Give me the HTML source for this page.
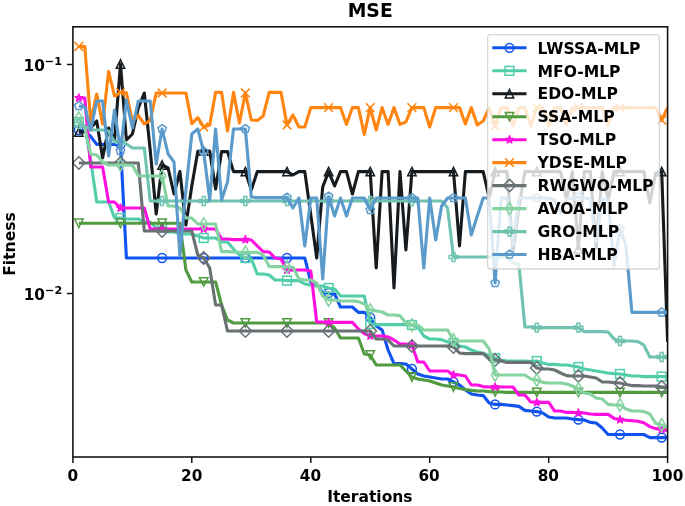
<!DOCTYPE html>
<html lang="en"><head><meta charset="utf-8"><title>MSE</title>
<style>html,body{margin:0;padding:0;background:#fff;overflow:hidden}svg{display:block}text{font-family:"DejaVu Sans", "Liberation Sans", sans-serif;font-weight:bold;fill:#000}</style></head><body>
<svg width="685" height="506" viewBox="0 0 685 506">
<rect width="685" height="506" fill="#fff"/>
<defs><clipPath id="ax"><rect x="72.9" y="26.8" width="594.7" height="430.2"/></clipPath></defs>
<g clip-path="url(#ax)">
<g><polyline points="78.8,130 84.8,131 90.7,136.5 96.7,144.4 102.6,144.4 108.6,144.4 114.5,144.4 120.5,144.4 126.4,258 132.4,258 138.3,258 144.3,258 150.2,258 156.2,258 162.1,258 168.1,258 174,258 179.9,258 185.9,258 191.8,258 197.8,258 203.7,258 209.7,258 215.6,258 221.6,258 227.5,258 233.5,258 239.4,258 245.4,258 251.3,258 257.3,258 263.2,258 269.2,258 275.1,258 281,258 287,258 292.9,258 298.9,258 304.8,258 310.8,282 316.7,284 322.7,293 328.6,293 334.6,294 340.5,307 346.5,307 352.4,307 358.4,312.4 364.3,312.4 370.2,317.4 376.2,326 382.1,330 388.1,350 394,363.6 400,363.6 405.9,364 411.9,369 417.8,374 423.8,376 429.7,377 435.7,378 441.6,379 447.6,379 453.5,382 459.5,385 465.4,390 471.3,394 477.3,395 483.2,395.6 489.2,403 495.1,404.4 501.1,404.4 507,405 513,405.6 518.9,406.4 524.9,410.4 530.8,411 536.8,411.6 542.7,413 548.7,417 554.6,418 560.6,418 566.5,418 572.4,419 578.4,419.6 584.3,420 590.3,422.4 596.2,423 602.2,428 608.1,434.5 614.1,434.5 620,434.5 626,434.5 631.9,434.5 637.9,434.5 643.8,434.5 649.8,437.6 655.7,437.6 661.7,437.6 667.6,437.6" fill="none" stroke="#1053f0" stroke-width="3.1" stroke-linejoin="round" stroke-linecap="butt"/>
<circle cx="78.8" cy="130" r="4.4" fill="none" stroke="#1053f0" stroke-width="1.5" stroke-linejoin="miter"/>
<circle cx="120.5" cy="144.4" r="4.4" fill="none" stroke="#1053f0" stroke-width="1.5" stroke-linejoin="miter"/>
<circle cx="162.1" cy="258" r="4.4" fill="none" stroke="#1053f0" stroke-width="1.5" stroke-linejoin="miter"/>
<circle cx="203.7" cy="258" r="4.4" fill="none" stroke="#1053f0" stroke-width="1.5" stroke-linejoin="miter"/>
<circle cx="245.4" cy="258" r="4.4" fill="none" stroke="#1053f0" stroke-width="1.5" stroke-linejoin="miter"/>
<circle cx="287" cy="258" r="4.4" fill="none" stroke="#1053f0" stroke-width="1.5" stroke-linejoin="miter"/>
<circle cx="328.6" cy="293" r="4.4" fill="none" stroke="#1053f0" stroke-width="1.5" stroke-linejoin="miter"/>
<circle cx="370.2" cy="317.4" r="4.4" fill="none" stroke="#1053f0" stroke-width="1.5" stroke-linejoin="miter"/>
<circle cx="411.9" cy="369" r="4.4" fill="none" stroke="#1053f0" stroke-width="1.5" stroke-linejoin="miter"/>
<circle cx="453.5" cy="382" r="4.4" fill="none" stroke="#1053f0" stroke-width="1.5" stroke-linejoin="miter"/>
<circle cx="495.1" cy="404.4" r="4.4" fill="none" stroke="#1053f0" stroke-width="1.5" stroke-linejoin="miter"/>
<circle cx="536.8" cy="411.6" r="4.4" fill="none" stroke="#1053f0" stroke-width="1.5" stroke-linejoin="miter"/>
<circle cx="578.4" cy="419.6" r="4.4" fill="none" stroke="#1053f0" stroke-width="1.5" stroke-linejoin="miter"/>
<circle cx="620" cy="434.5" r="4.4" fill="none" stroke="#1053f0" stroke-width="1.5" stroke-linejoin="miter"/>
<circle cx="661.7" cy="437.6" r="4.4" fill="none" stroke="#1053f0" stroke-width="1.5" stroke-linejoin="miter"/>
</g>
<g><polyline points="78.8,122 84.8,126 90.7,160 96.7,202 102.6,202 108.6,202 114.5,218 120.5,218 126.4,219 132.4,219 138.3,219 144.3,222 150.2,222 156.2,228 162.1,228 168.1,232 174,232 179.9,234 185.9,234 191.8,234 197.8,236 203.7,238 209.7,238 215.6,238 221.6,242 227.5,242 233.5,249 239.4,255 245.4,258 251.3,259 257.3,274 263.2,274 269.2,275 275.1,280 281,280 287,280.6 292.9,280.6 298.9,280.6 304.8,284 310.8,285 316.7,286 322.7,286 328.6,288 334.6,289 340.5,296 346.5,296 352.4,296 358.4,296 364.3,296 370.2,324 376.2,324.6 382.1,324.6 388.1,324.6 394,324.6 400,324.6 405.9,324.6 411.9,325 417.8,327 423.8,336 429.7,339 435.7,339 441.6,339.6 447.6,342 453.5,343 459.5,346 465.4,347 471.3,350 477.3,352 483.2,353 489.2,356 495.1,358 501.1,360 507,361 513,361 518.9,361 524.9,361 530.8,361.6 536.8,361 542.7,363 548.7,364.4 554.6,364.4 560.6,365 566.5,365 572.4,366 578.4,367 584.3,369 590.3,370 596.2,371 602.2,372 608.1,373 614.1,373.6 620,374 626,375 631.9,376 637.9,376 643.8,376.6 649.8,376.6 655.7,376.6 661.7,376.6 667.6,376.6" fill="none" stroke="#52cdaa" stroke-width="3.1" stroke-linejoin="round" stroke-linecap="butt"/>
<rect x="74.4" y="117.6" width="8.8" height="8.8" fill="none" stroke="#52cdaa" stroke-width="1.5" stroke-linejoin="miter"/>
<rect x="116.1" y="213.6" width="8.8" height="8.8" fill="none" stroke="#52cdaa" stroke-width="1.5" stroke-linejoin="miter"/>
<rect x="157.7" y="223.6" width="8.8" height="8.8" fill="none" stroke="#52cdaa" stroke-width="1.5" stroke-linejoin="miter"/>
<rect x="199.3" y="233.6" width="8.8" height="8.8" fill="none" stroke="#52cdaa" stroke-width="1.5" stroke-linejoin="miter"/>
<rect x="241" y="253.6" width="8.8" height="8.8" fill="none" stroke="#52cdaa" stroke-width="1.5" stroke-linejoin="miter"/>
<rect x="282.6" y="276.2" width="8.8" height="8.8" fill="none" stroke="#52cdaa" stroke-width="1.5" stroke-linejoin="miter"/>
<rect x="324.2" y="283.6" width="8.8" height="8.8" fill="none" stroke="#52cdaa" stroke-width="1.5" stroke-linejoin="miter"/>
<rect x="365.9" y="319.6" width="8.8" height="8.8" fill="none" stroke="#52cdaa" stroke-width="1.5" stroke-linejoin="miter"/>
<rect x="407.5" y="320.6" width="8.8" height="8.8" fill="none" stroke="#52cdaa" stroke-width="1.5" stroke-linejoin="miter"/>
<rect x="449.1" y="338.6" width="8.8" height="8.8" fill="none" stroke="#52cdaa" stroke-width="1.5" stroke-linejoin="miter"/>
<rect x="490.7" y="353.6" width="8.8" height="8.8" fill="none" stroke="#52cdaa" stroke-width="1.5" stroke-linejoin="miter"/>
<rect x="532.4" y="356.6" width="8.8" height="8.8" fill="none" stroke="#52cdaa" stroke-width="1.5" stroke-linejoin="miter"/>
<rect x="574" y="362.6" width="8.8" height="8.8" fill="none" stroke="#52cdaa" stroke-width="1.5" stroke-linejoin="miter"/>
<rect x="615.6" y="369.6" width="8.8" height="8.8" fill="none" stroke="#52cdaa" stroke-width="1.5" stroke-linejoin="miter"/>
<rect x="657.3" y="372.2" width="8.8" height="8.8" fill="none" stroke="#52cdaa" stroke-width="1.5" stroke-linejoin="miter"/>
</g>
<g><polyline points="78.8,132 84.8,132 90.7,128 96.7,121 102.6,158 108.6,128 114.5,140 120.5,64 126.4,140 132.4,134 138.3,108 144.3,93 150.2,150 156.2,214 162.1,165 168.1,168 174,194 179.9,171.5 185.9,225 191.8,186 197.8,151.4 203.7,151 209.7,151 215.6,189 221.6,151.6 227.5,151.6 233.5,171.6 239.4,171.6 245.4,171.6 251.3,190 257.3,171.6 263.2,171.6 269.2,171.6 275.1,171.6 281,171.6 287,171.6 292.9,175 298.9,171.6 304.8,171.6 310.8,215 316.7,258 322.7,187 328.6,171.6 334.6,186 340.5,171.6 346.5,171.6 352.4,194 358.4,171.6 364.3,171.6 370.2,171.6 376.2,268 382.1,171.6 388.1,171.6 394,288 400,171.6 405.9,250 411.9,171.6 417.8,171.6 423.8,171.6 429.7,171.6 435.7,171.6 441.6,171.6 447.6,171.6 453.5,171.6 459.5,246 465.4,171.6 471.3,171.6 477.3,171.6 483.2,171.6 489.2,198 495.1,171.6 501.1,171.6 507,171.6 513,252 518.9,207 524.9,171.6 530.8,171.6 536.8,171.6 542.7,171.6 548.7,171.6 554.6,171.6 560.6,171.6 566.5,200 572.4,171.6 578.4,249 584.3,171.6 590.3,171.6 596.2,248 602.2,171.6 608.1,200 614.1,171.6 620,171.6 626,171.6 631.9,171.6 637.9,171.6 643.8,171.6 649.8,203 655.7,173 661.7,171.6 667.6,342" fill="none" stroke="#161b1f" stroke-width="3.1" stroke-linejoin="round" stroke-linecap="butt"/>
<polygon points="78.8,127.8 83.1,136.2 74.6,136.2" fill="none" stroke="#161b1f" stroke-width="1.5" stroke-linejoin="miter"/>
<polygon points="120.5,59.8 124.7,68.2 116.3,68.2" fill="none" stroke="#161b1f" stroke-width="1.5" stroke-linejoin="miter"/>
<polygon points="162.1,160.8 166.3,169.2 157.9,169.2" fill="none" stroke="#161b1f" stroke-width="1.5" stroke-linejoin="miter"/>
<polygon points="203.7,146.8 208,155.2 199.5,155.2" fill="none" stroke="#161b1f" stroke-width="1.5" stroke-linejoin="miter"/>
<polygon points="245.4,167.4 249.6,175.8 241.1,175.8" fill="none" stroke="#161b1f" stroke-width="1.5" stroke-linejoin="miter"/>
<polygon points="287,167.4 291.2,175.8 282.8,175.8" fill="none" stroke="#161b1f" stroke-width="1.5" stroke-linejoin="miter"/>
<polygon points="328.6,167.4 332.8,175.8 324.4,175.8" fill="none" stroke="#161b1f" stroke-width="1.5" stroke-linejoin="miter"/>
<polygon points="370.2,167.4 374.5,175.8 366,175.8" fill="none" stroke="#161b1f" stroke-width="1.5" stroke-linejoin="miter"/>
<polygon points="411.9,167.4 416.1,175.8 407.7,175.8" fill="none" stroke="#161b1f" stroke-width="1.5" stroke-linejoin="miter"/>
<polygon points="453.5,167.4 457.7,175.8 449.3,175.8" fill="none" stroke="#161b1f" stroke-width="1.5" stroke-linejoin="miter"/>
<polygon points="495.1,167.4 499.4,175.8 490.9,175.8" fill="none" stroke="#161b1f" stroke-width="1.5" stroke-linejoin="miter"/>
<polygon points="536.8,167.4 541,175.8 532.5,175.8" fill="none" stroke="#161b1f" stroke-width="1.5" stroke-linejoin="miter"/>
<polygon points="578.4,244.8 582.6,253.2 574.2,253.2" fill="none" stroke="#161b1f" stroke-width="1.5" stroke-linejoin="miter"/>
<polygon points="620,167.4 624.2,175.8 615.8,175.8" fill="none" stroke="#161b1f" stroke-width="1.5" stroke-linejoin="miter"/>
<polygon points="661.7,167.4 665.9,175.8 657.4,175.8" fill="none" stroke="#161b1f" stroke-width="1.5" stroke-linejoin="miter"/>
</g>
<g><polyline points="78.8,223.3 84.8,223.3 90.7,223.3 96.7,223.3 102.6,223.3 108.6,223.3 114.5,223.3 120.5,223.3 126.4,223.3 132.4,223.3 138.3,223.3 144.3,223.3 150.2,223.3 156.2,223.3 162.1,223.3 168.1,223.3 174,223.3 179.9,223.3 185.9,270 191.8,282 197.8,282 203.7,282 209.7,282 215.6,282 221.6,305 227.5,320 233.5,323 239.4,323 245.4,323 251.3,323 257.3,323 263.2,323 269.2,323 275.1,323 281,323 287,323 292.9,323 298.9,323 304.8,323 310.8,323 316.7,323 322.7,323 328.6,323 334.6,328 340.5,338 346.5,338 352.4,338 358.4,338 364.3,354 370.2,355 376.2,365 382.1,365 388.1,365 394,365 400,365 405.9,371 411.9,377 417.8,379 423.8,380 429.7,381 435.7,383 441.6,385 447.6,386 453.5,387 459.5,388.4 465.4,389.6 471.3,390.4 477.3,391 483.2,391 489.2,391.6 495.1,392 501.1,392 507,392.4 513,392.4 518.9,392.4 524.9,392.4 530.8,392.4 536.8,392.4 542.7,392.4 548.7,392.4 554.6,392.4 560.6,392.4 566.5,392.4 572.4,392.4 578.4,392.4 584.3,392.4 590.3,392.4 596.2,392.4 602.2,392.4 608.1,392.4 614.1,392.4 620,392.4 626,392.4 631.9,392.4 637.9,392.4 643.8,392.4 649.8,392.4 655.7,392.4 661.7,392.4 667.6,392.4" fill="none" stroke="#509b40" stroke-width="3.1" stroke-linejoin="round" stroke-linecap="butt"/>
<polygon points="78.8,227.5 83.1,219.1 74.6,219.1" fill="none" stroke="#509b40" stroke-width="1.5" stroke-linejoin="miter"/>
<polygon points="120.5,227.5 124.7,219.1 116.3,219.1" fill="none" stroke="#509b40" stroke-width="1.5" stroke-linejoin="miter"/>
<polygon points="162.1,227.5 166.3,219.1 157.9,219.1" fill="none" stroke="#509b40" stroke-width="1.5" stroke-linejoin="miter"/>
<polygon points="203.7,286.2 208,277.8 199.5,277.8" fill="none" stroke="#509b40" stroke-width="1.5" stroke-linejoin="miter"/>
<polygon points="245.4,327.2 249.6,318.8 241.1,318.8" fill="none" stroke="#509b40" stroke-width="1.5" stroke-linejoin="miter"/>
<polygon points="287,327.2 291.2,318.8 282.8,318.8" fill="none" stroke="#509b40" stroke-width="1.5" stroke-linejoin="miter"/>
<polygon points="328.6,327.2 332.8,318.8 324.4,318.8" fill="none" stroke="#509b40" stroke-width="1.5" stroke-linejoin="miter"/>
<polygon points="370.2,359.2 374.5,350.8 366,350.8" fill="none" stroke="#509b40" stroke-width="1.5" stroke-linejoin="miter"/>
<polygon points="411.9,381.2 416.1,372.8 407.7,372.8" fill="none" stroke="#509b40" stroke-width="1.5" stroke-linejoin="miter"/>
<polygon points="453.5,391.2 457.7,382.8 449.3,382.8" fill="none" stroke="#509b40" stroke-width="1.5" stroke-linejoin="miter"/>
<polygon points="495.1,396.2 499.4,387.8 490.9,387.8" fill="none" stroke="#509b40" stroke-width="1.5" stroke-linejoin="miter"/>
<polygon points="536.8,396.6 541,388.2 532.5,388.2" fill="none" stroke="#509b40" stroke-width="1.5" stroke-linejoin="miter"/>
<polygon points="578.4,396.6 582.6,388.2 574.2,388.2" fill="none" stroke="#509b40" stroke-width="1.5" stroke-linejoin="miter"/>
<polygon points="620,396.6 624.2,388.2 615.8,388.2" fill="none" stroke="#509b40" stroke-width="1.5" stroke-linejoin="miter"/>
<polygon points="661.7,396.6 665.9,388.2 657.4,388.2" fill="none" stroke="#509b40" stroke-width="1.5" stroke-linejoin="miter"/>
</g>
<g><polyline points="78.8,98 84.8,98 90.7,167 96.7,167 102.6,167 108.6,202 114.5,202 120.5,208 126.4,208 132.4,208 138.3,208 144.3,208 150.2,229 156.2,229 162.1,229 168.1,229 174,229 179.9,229 185.9,229 191.8,229 197.8,229 203.7,229 209.7,229 215.6,229 221.6,239 227.5,239 233.5,239.6 239.4,239.6 245.4,239.6 251.3,240 257.3,246 263.2,251.6 269.2,252 275.1,258 281,259 287,270 292.9,270 298.9,270 304.8,270 310.8,271 316.7,322 322.7,322 328.6,322.4 334.6,322.4 340.5,322.4 346.5,322.4 352.4,322.4 358.4,329 364.3,333.6 370.2,336 376.2,336 382.1,336 388.1,337 394,340 400,344 405.9,344 411.9,345 417.8,362 423.8,362 429.7,371 435.7,371 441.6,371 447.6,371 453.5,375 459.5,375 465.4,376 471.3,385 477.3,385 483.2,386.6 489.2,387 495.1,387 501.1,387 507,387 513,387 518.9,395 524.9,395 530.8,402 536.8,402.4 542.7,402.4 548.7,402.4 554.6,411 560.6,411 566.5,412.4 572.4,412.4 578.4,413 584.3,413 590.3,414 596.2,414.4 602.2,414.4 608.1,414.4 614.1,418.4 620,419.7 626,420.2 631.9,420.7 637.9,421.2 643.8,422.8 649.8,426.6 655.7,428.6 661.7,429.4 667.6,430.4" fill="none" stroke="#ff10e0" stroke-width="3.1" stroke-linejoin="round" stroke-linecap="butt"/>
<polygon points="78.8,94 79.7,96.8 82.6,96.8 80.3,98.5 81.2,101.2 78.8,99.5 76.5,101.2 77.4,98.5 75.1,96.8 78,96.8" fill="#ff10e0" fill-opacity="0.55" stroke="#ff10e0" stroke-width="1.5" stroke-linejoin="round"/>
<polygon points="120.5,204 121.4,206.8 124.2,206.8 121.9,208.5 122.8,211.2 120.5,209.5 118.1,211.2 119,208.5 116.7,206.8 119.6,206.8" fill="#ff10e0" fill-opacity="0.55" stroke="#ff10e0" stroke-width="1.5" stroke-linejoin="round"/>
<polygon points="162.1,225 163,227.8 165.9,227.8 163.5,229.5 164.4,232.2 162.1,230.5 159.8,232.2 160.7,229.5 158.3,227.8 161.2,227.8" fill="#ff10e0" fill-opacity="0.55" stroke="#ff10e0" stroke-width="1.5" stroke-linejoin="round"/>
<polygon points="203.7,225 204.6,227.8 207.5,227.8 205.2,229.5 206.1,232.2 203.7,230.5 201.4,232.2 202.3,229.5 200,227.8 202.8,227.8" fill="#ff10e0" fill-opacity="0.55" stroke="#ff10e0" stroke-width="1.5" stroke-linejoin="round"/>
<polygon points="245.4,235.6 246.3,238.4 249.1,238.4 246.8,240.1 247.7,242.8 245.4,241.1 243,242.8 243.9,240.1 241.6,238.4 244.5,238.4" fill="#ff10e0" fill-opacity="0.55" stroke="#ff10e0" stroke-width="1.5" stroke-linejoin="round"/>
<polygon points="287,266 287.9,268.8 290.8,268.8 288.4,270.5 289.3,273.2 287,271.5 284.7,273.2 285.6,270.5 283.2,268.8 286.1,268.8" fill="#ff10e0" fill-opacity="0.55" stroke="#ff10e0" stroke-width="1.5" stroke-linejoin="round"/>
<polygon points="328.6,318.4 329.5,321.2 332.4,321.2 330.1,322.9 330.9,325.6 328.6,323.9 326.3,325.6 327.2,322.9 324.9,321.2 327.7,321.2" fill="#ff10e0" fill-opacity="0.55" stroke="#ff10e0" stroke-width="1.5" stroke-linejoin="round"/>
<polygon points="370.2,332 371.1,334.8 374,334.8 371.7,336.5 372.6,339.2 370.2,337.5 367.9,339.2 368.8,336.5 366.5,334.8 369.4,334.8" fill="#ff10e0" fill-opacity="0.55" stroke="#ff10e0" stroke-width="1.5" stroke-linejoin="round"/>
<polygon points="411.9,341 412.8,343.8 415.6,343.8 413.3,345.5 414.2,348.2 411.9,346.5 409.6,348.2 410.4,345.5 408.1,343.8 411,343.8" fill="#ff10e0" fill-opacity="0.55" stroke="#ff10e0" stroke-width="1.5" stroke-linejoin="round"/>
<polygon points="453.5,371 454.4,373.8 457.3,373.8 454.9,375.5 455.8,378.2 453.5,376.5 451.2,378.2 452.1,375.5 449.7,373.8 452.6,373.8" fill="#ff10e0" fill-opacity="0.55" stroke="#ff10e0" stroke-width="1.5" stroke-linejoin="round"/>
<polygon points="495.1,383 496,385.8 498.9,385.8 496.6,387.5 497.5,390.2 495.1,388.5 492.8,390.2 493.7,387.5 491.4,385.8 494.2,385.8" fill="#ff10e0" fill-opacity="0.55" stroke="#ff10e0" stroke-width="1.5" stroke-linejoin="round"/>
<polygon points="536.8,398.4 537.7,401.2 540.5,401.2 538.2,402.9 539.1,405.6 536.8,403.9 534.4,405.6 535.3,402.9 533,401.2 535.9,401.2" fill="#ff10e0" fill-opacity="0.55" stroke="#ff10e0" stroke-width="1.5" stroke-linejoin="round"/>
<polygon points="578.4,409 579.3,411.8 582.2,411.8 579.8,413.5 580.7,416.2 578.4,414.5 576.1,416.2 577,413.5 574.6,411.8 577.5,411.8" fill="#ff10e0" fill-opacity="0.55" stroke="#ff10e0" stroke-width="1.5" stroke-linejoin="round"/>
<polygon points="620,415.7 620.9,418.5 623.8,418.5 621.5,420.2 622.4,422.9 620,421.2 617.7,422.9 618.6,420.2 616.3,418.5 619.1,418.5" fill="#ff10e0" fill-opacity="0.55" stroke="#ff10e0" stroke-width="1.5" stroke-linejoin="round"/>
<polygon points="661.7,425.4 662.5,428.2 665.4,428.2 663.1,429.9 664,432.6 661.7,430.9 659.3,432.6 660.2,429.9 657.9,428.2 660.8,428.2" fill="#ff10e0" fill-opacity="0.55" stroke="#ff10e0" stroke-width="1.5" stroke-linejoin="round"/>
</g>
<g><polyline points="78.8,46.5 84.8,46.5 90.7,122 96.7,94 102.6,124 108.6,71.6 114.5,96 120.5,92.4 126.4,92.8 132.4,121 138.3,115.5 144.3,124 150.2,120.6 156.2,93 162.1,93 168.1,93 174,93 179.9,93 185.9,93 191.8,123.6 197.8,117.6 203.7,127 209.7,125 215.6,92.4 221.6,92.4 227.5,131 233.5,92.4 239.4,123 245.4,93 251.3,120 257.3,120.4 263.2,116 269.2,92.4 275.1,92.4 281,92.4 287,125 292.9,115 298.9,127 304.8,127 310.8,107.6 316.7,107.6 322.7,107.6 328.6,107.6 334.6,107.6 340.5,107.6 346.5,124.4 352.4,107.6 358.4,107.6 364.3,134.4 370.2,107.6 376.2,130 382.1,107.6 388.1,124.4 394,107.6 400,124.4 405.9,122 411.9,107.6 417.8,107.6 423.8,107.6 429.7,127 435.7,107.6 441.6,107.6 447.6,107.6 453.5,107.6 459.5,107.6 465.4,124 471.3,107.6 477.3,125 483.2,121 489.2,107.6 495.1,126 501.1,107.6 507,107.6 513,126 518.9,107.6 524.9,107.6 530.8,126 536.8,107.6 542.7,107.6 548.7,126 554.6,107.6 560.6,107.6 566.5,125 572.4,107.6 578.4,107.6 584.3,107.6 590.3,107.6 596.2,107.6 602.2,107.6 608.1,125 614.1,107.6 620,107.6 626,107.6 631.9,107.6 637.9,107.6 643.8,107.6 649.8,107.6 655.7,107.6 661.7,120 667.6,107.6" fill="none" stroke="#ff8510" stroke-width="3.1" stroke-linejoin="round" stroke-linecap="butt"/>
<path d="M74.4 42.1L83.2 50.9M74.4 50.9L83.2 42.1" fill="none" stroke="#ff8510" stroke-width="1.5" stroke-linejoin="miter" stroke-linecap="butt"/>
<path d="M116.1 88L124.9 96.8M116.1 96.8L124.9 88" fill="none" stroke="#ff8510" stroke-width="1.5" stroke-linejoin="miter" stroke-linecap="butt"/>
<path d="M157.7 88.6L166.5 97.4M157.7 97.4L166.5 88.6" fill="none" stroke="#ff8510" stroke-width="1.5" stroke-linejoin="miter" stroke-linecap="butt"/>
<path d="M199.3 122.6L208.1 131.4M199.3 131.4L208.1 122.6" fill="none" stroke="#ff8510" stroke-width="1.5" stroke-linejoin="miter" stroke-linecap="butt"/>
<path d="M241 88.6L249.8 97.4M241 97.4L249.8 88.6" fill="none" stroke="#ff8510" stroke-width="1.5" stroke-linejoin="miter" stroke-linecap="butt"/>
<path d="M282.6 120.6L291.4 129.4M282.6 129.4L291.4 120.6" fill="none" stroke="#ff8510" stroke-width="1.5" stroke-linejoin="miter" stroke-linecap="butt"/>
<path d="M324.2 103.2L333 112M324.2 112L333 103.2" fill="none" stroke="#ff8510" stroke-width="1.5" stroke-linejoin="miter" stroke-linecap="butt"/>
<path d="M365.9 103.2L374.6 112M365.9 112L374.6 103.2" fill="none" stroke="#ff8510" stroke-width="1.5" stroke-linejoin="miter" stroke-linecap="butt"/>
<path d="M407.5 103.2L416.3 112M407.5 112L416.3 103.2" fill="none" stroke="#ff8510" stroke-width="1.5" stroke-linejoin="miter" stroke-linecap="butt"/>
<path d="M449.1 103.2L457.9 112M449.1 112L457.9 103.2" fill="none" stroke="#ff8510" stroke-width="1.5" stroke-linejoin="miter" stroke-linecap="butt"/>
<path d="M490.7 121.6L499.5 130.4M490.7 130.4L499.5 121.6" fill="none" stroke="#ff8510" stroke-width="1.5" stroke-linejoin="miter" stroke-linecap="butt"/>
<path d="M532.4 103.2L541.2 112M532.4 112L541.2 103.2" fill="none" stroke="#ff8510" stroke-width="1.5" stroke-linejoin="miter" stroke-linecap="butt"/>
<path d="M574 103.2L582.8 112M574 112L582.8 103.2" fill="none" stroke="#ff8510" stroke-width="1.5" stroke-linejoin="miter" stroke-linecap="butt"/>
<path d="M615.6 103.2L624.4 112M615.6 112L624.4 103.2" fill="none" stroke="#ff8510" stroke-width="1.5" stroke-linejoin="miter" stroke-linecap="butt"/>
<path d="M657.3 115.6L666.1 124.4M657.3 124.4L666.1 115.6" fill="none" stroke="#ff8510" stroke-width="1.5" stroke-linejoin="miter" stroke-linecap="butt"/>
</g>
<g><polyline points="78.8,163 84.8,163 90.7,163 96.7,163 102.6,163 108.6,163 114.5,163 120.5,163 126.4,163 132.4,163 138.3,163 144.3,231 150.2,231 156.2,231 162.1,231 168.1,231 174,231 179.9,231 185.9,231 191.8,231 197.8,255 203.7,258 209.7,268 215.6,305 221.6,305 227.5,331 233.5,331 239.4,331 245.4,331 251.3,331 257.3,331 263.2,331 269.2,331 275.1,331 281,331 287,331 292.9,331 298.9,331 304.8,331 310.8,331 316.7,331 322.7,331 328.6,331 334.6,331 340.5,331 346.5,331 352.4,331 358.4,331 364.3,331 370.2,331 376.2,339 382.1,339 388.1,340 394,346 400,346 405.9,346 411.9,346 417.8,346 423.8,346 429.7,346 435.7,346 441.6,346 447.6,346 453.5,347 459.5,353 465.4,353.6 471.3,353.6 477.3,353.6 483.2,353.6 489.2,359 495.1,360 501.1,361 507,362.4 513,362.4 518.9,362.4 524.9,362.4 530.8,362.4 536.8,368 542.7,369 548.7,369 554.6,370 560.6,373 566.5,375.6 572.4,376 578.4,376 584.3,376 590.3,377 596.2,378 602.2,382 608.1,382 614.1,382.6 620,383 626,384.4 631.9,385.6 637.9,385.6 643.8,386 649.8,386 655.7,386 661.7,387 667.6,387" fill="none" stroke="#697174" stroke-width="3.1" stroke-linejoin="round" stroke-linecap="butt"/>
<polygon points="78.8,156.8 85.1,163 78.8,169.2 72.6,163" fill="none" stroke="#697174" stroke-width="1.5" stroke-linejoin="miter"/>
<polygon points="120.5,156.8 126.7,163 120.5,169.2 114.3,163" fill="none" stroke="#697174" stroke-width="1.5" stroke-linejoin="miter"/>
<polygon points="162.1,224.8 168.3,231 162.1,237.2 155.9,231" fill="none" stroke="#697174" stroke-width="1.5" stroke-linejoin="miter"/>
<polygon points="203.7,251.8 210,258 203.7,264.2 197.5,258" fill="none" stroke="#697174" stroke-width="1.5" stroke-linejoin="miter"/>
<polygon points="245.4,324.8 251.6,331 245.4,337.2 239.1,331" fill="none" stroke="#697174" stroke-width="1.5" stroke-linejoin="miter"/>
<polygon points="287,324.8 293.2,331 287,337.2 280.8,331" fill="none" stroke="#697174" stroke-width="1.5" stroke-linejoin="miter"/>
<polygon points="328.6,324.8 334.8,331 328.6,337.2 322.4,331" fill="none" stroke="#697174" stroke-width="1.5" stroke-linejoin="miter"/>
<polygon points="370.2,324.8 376.5,331 370.2,337.2 364,331" fill="none" stroke="#697174" stroke-width="1.5" stroke-linejoin="miter"/>
<polygon points="411.9,339.8 418.1,346 411.9,352.2 405.7,346" fill="none" stroke="#697174" stroke-width="1.5" stroke-linejoin="miter"/>
<polygon points="453.5,340.8 459.7,347 453.5,353.2 447.3,347" fill="none" stroke="#697174" stroke-width="1.5" stroke-linejoin="miter"/>
<polygon points="495.1,353.8 501.4,360 495.1,366.2 488.9,360" fill="none" stroke="#697174" stroke-width="1.5" stroke-linejoin="miter"/>
<polygon points="536.8,361.8 543,368 536.8,374.2 530.5,368" fill="none" stroke="#697174" stroke-width="1.5" stroke-linejoin="miter"/>
<polygon points="578.4,369.8 584.6,376 578.4,382.2 572.2,376" fill="none" stroke="#697174" stroke-width="1.5" stroke-linejoin="miter"/>
<polygon points="620,376.8 626.2,383 620,389.2 613.8,383" fill="none" stroke="#697174" stroke-width="1.5" stroke-linejoin="miter"/>
<polygon points="661.7,380.8 667.9,387 661.7,393.2 655.4,387" fill="none" stroke="#697174" stroke-width="1.5" stroke-linejoin="miter"/>
</g>
<g><polyline points="78.8,118 84.8,128 90.7,154 96.7,155 102.6,162 108.6,165 114.5,165 120.5,165 126.4,165 132.4,165.4 138.3,175.6 144.3,176 150.2,176 156.2,176 162.1,176 168.1,206 174,206 179.9,208 185.9,218 191.8,218 197.8,224 203.7,224 209.7,224 215.6,224 221.6,251.6 227.5,251.6 233.5,252 239.4,252.4 245.4,252.4 251.3,252.4 257.3,252.4 263.2,255 269.2,266.6 275.1,266.6 281,266.6 287,267 292.9,267 298.9,279 304.8,280 310.8,280 316.7,283 322.7,296 328.6,300 334.6,300 340.5,301 346.5,301 352.4,301 358.4,301.6 364.3,304 370.2,310 376.2,311 382.1,312 388.1,315 394,315 400,315.6 405.9,323 411.9,325 417.8,325 423.8,330 429.7,330 435.7,330 441.6,330 447.6,330 453.5,340 459.5,341 465.4,341 471.3,341 477.3,341 483.2,341 489.2,349 495.1,375 501.1,375 507,375 513,375 518.9,375 524.9,375 530.8,379 536.8,380 542.7,382.4 548.7,383 554.6,383 560.6,383 566.5,384 572.4,386 578.4,389 584.3,393 590.3,394 596.2,398 602.2,399 608.1,404.4 614.1,405 620,405 626,409 631.9,411 637.9,411 643.8,411.5 649.8,414 655.7,423.3 661.7,425 667.6,428" fill="none" stroke="#84d3a0" stroke-width="3.1" stroke-linejoin="round" stroke-linecap="butt"/>
<polygon points="78.8,111.8 82.6,118 78.8,124.2 75.1,118" fill="none" stroke="#84d3a0" stroke-width="1.5" stroke-linejoin="miter"/>
<polygon points="120.5,158.8 124.2,165 120.5,171.2 116.7,165" fill="none" stroke="#84d3a0" stroke-width="1.5" stroke-linejoin="miter"/>
<polygon points="162.1,169.8 165.8,176 162.1,182.2 158.4,176" fill="none" stroke="#84d3a0" stroke-width="1.5" stroke-linejoin="miter"/>
<polygon points="203.7,217.8 207.5,224 203.7,230.2 200,224" fill="none" stroke="#84d3a0" stroke-width="1.5" stroke-linejoin="miter"/>
<polygon points="245.4,246.2 249.1,252.4 245.4,258.6 241.6,252.4" fill="none" stroke="#84d3a0" stroke-width="1.5" stroke-linejoin="miter"/>
<polygon points="287,260.8 290.7,267 287,273.2 283.3,267" fill="none" stroke="#84d3a0" stroke-width="1.5" stroke-linejoin="miter"/>
<polygon points="328.6,293.8 332.4,300 328.6,306.2 324.9,300" fill="none" stroke="#84d3a0" stroke-width="1.5" stroke-linejoin="miter"/>
<polygon points="370.2,303.8 374,310 370.2,316.2 366.5,310" fill="none" stroke="#84d3a0" stroke-width="1.5" stroke-linejoin="miter"/>
<polygon points="411.9,318.8 415.6,325 411.9,331.2 408.1,325" fill="none" stroke="#84d3a0" stroke-width="1.5" stroke-linejoin="miter"/>
<polygon points="453.5,333.8 457.2,340 453.5,346.2 449.8,340" fill="none" stroke="#84d3a0" stroke-width="1.5" stroke-linejoin="miter"/>
<polygon points="495.1,368.8 498.9,375 495.1,381.2 491.4,375" fill="none" stroke="#84d3a0" stroke-width="1.5" stroke-linejoin="miter"/>
<polygon points="536.8,373.8 540.5,380 536.8,386.2 533,380" fill="none" stroke="#84d3a0" stroke-width="1.5" stroke-linejoin="miter"/>
<polygon points="578.4,382.8 582.1,389 578.4,395.2 574.7,389" fill="none" stroke="#84d3a0" stroke-width="1.5" stroke-linejoin="miter"/>
<polygon points="620,398.8 623.8,405 620,411.2 616.3,405" fill="none" stroke="#84d3a0" stroke-width="1.5" stroke-linejoin="miter"/>
<polygon points="661.7,418.8 665.4,425 661.7,431.2 657.9,425" fill="none" stroke="#84d3a0" stroke-width="1.5" stroke-linejoin="miter"/>
</g>
<g><polyline points="78.8,124 84.8,126 90.7,130 96.7,130 102.6,130 108.6,131 114.5,142 120.5,142 126.4,144 132.4,148 138.3,148 144.3,148 150.2,201 156.2,201 162.1,201 168.1,201 174,201 179.9,201 185.9,201 191.8,201 197.8,201 203.7,201 209.7,201 215.6,201 221.6,201 227.5,201 233.5,201 239.4,201 245.4,201 251.3,201 257.3,201 263.2,201 269.2,201 275.1,201 281,201 287,201 292.9,201 298.9,201 304.8,201 310.8,201 316.7,201 322.7,201 328.6,201 334.6,201 340.5,201 346.5,201 352.4,201 358.4,201 364.3,201 370.2,201 376.2,201 382.1,201 388.1,201 394,201 400,201 405.9,201 411.9,201 417.8,201 423.8,201 429.7,201 435.7,201 441.6,201 447.6,208 453.5,257 459.5,257 465.4,257 471.3,257 477.3,257 483.2,257 489.2,257 495.1,257 501.1,257 507,257 513,263 518.9,264 524.9,327 530.8,327 536.8,327.6 542.7,327.6 548.7,327.6 554.6,327.6 560.6,327.6 566.5,327.6 572.4,327.6 578.4,327.6 584.3,331.6 590.3,331.6 596.2,331.6 602.2,331.6 608.1,332 614.1,339 620,341 626,341 631.9,341 637.9,341.6 643.8,345 649.8,357 655.7,357 661.7,357 667.6,357" fill="none" stroke="#70c3b0" stroke-width="3.1" stroke-linejoin="round" stroke-linecap="butt"/>
<polygon points="77.4,119.6 80.3,119.6 80.3,122.5 83.2,122.5 83.2,125.5 80.3,125.5 80.3,128.4 77.4,128.4 77.4,125.5 74.4,125.5 74.4,122.5 77.4,122.5" fill="none" stroke="#70c3b0" stroke-width="1.5" stroke-linejoin="miter"/>
<polygon points="119,137.6 121.9,137.6 121.9,140.5 124.9,140.5 124.9,143.5 121.9,143.5 121.9,146.4 119,146.4 119,143.5 116.1,143.5 116.1,140.5 119,140.5" fill="none" stroke="#70c3b0" stroke-width="1.5" stroke-linejoin="miter"/>
<polygon points="160.6,196.6 163.6,196.6 163.6,199.5 166.5,199.5 166.5,202.5 163.6,202.5 163.6,205.4 160.6,205.4 160.6,202.5 157.7,202.5 157.7,199.5 160.6,199.5" fill="none" stroke="#70c3b0" stroke-width="1.5" stroke-linejoin="miter"/>
<polygon points="202.3,196.6 205.2,196.6 205.2,199.5 208.1,199.5 208.1,202.5 205.2,202.5 205.2,205.4 202.3,205.4 202.3,202.5 199.3,202.5 199.3,199.5 202.3,199.5" fill="none" stroke="#70c3b0" stroke-width="1.5" stroke-linejoin="miter"/>
<polygon points="243.9,196.6 246.8,196.6 246.8,199.5 249.8,199.5 249.8,202.5 246.8,202.5 246.8,205.4 243.9,205.4 243.9,202.5 241,202.5 241,199.5 243.9,199.5" fill="none" stroke="#70c3b0" stroke-width="1.5" stroke-linejoin="miter"/>
<polygon points="285.5,196.6 288.5,196.6 288.5,199.5 291.4,199.5 291.4,202.5 288.5,202.5 288.5,205.4 285.5,205.4 285.5,202.5 282.6,202.5 282.6,199.5 285.5,199.5" fill="none" stroke="#70c3b0" stroke-width="1.5" stroke-linejoin="miter"/>
<polygon points="327.2,196.6 330.1,196.6 330.1,199.5 333,199.5 333,202.5 330.1,202.5 330.1,205.4 327.2,205.4 327.2,202.5 324.2,202.5 324.2,199.5 327.2,199.5" fill="none" stroke="#70c3b0" stroke-width="1.5" stroke-linejoin="miter"/>
<polygon points="368.8,196.6 371.7,196.6 371.7,199.5 374.6,199.5 374.6,202.5 371.7,202.5 371.7,205.4 368.8,205.4 368.8,202.5 365.9,202.5 365.9,199.5 368.8,199.5" fill="none" stroke="#70c3b0" stroke-width="1.5" stroke-linejoin="miter"/>
<polygon points="410.4,196.6 413.3,196.6 413.3,199.5 416.3,199.5 416.3,202.5 413.3,202.5 413.3,205.4 410.4,205.4 410.4,202.5 407.5,202.5 407.5,199.5 410.4,199.5" fill="none" stroke="#70c3b0" stroke-width="1.5" stroke-linejoin="miter"/>
<polygon points="452,252.6 455,252.6 455,255.5 457.9,255.5 457.9,258.5 455,258.5 455,261.4 452,261.4 452,258.5 449.1,258.5 449.1,255.5 452,255.5" fill="none" stroke="#70c3b0" stroke-width="1.5" stroke-linejoin="miter"/>
<polygon points="493.7,252.6 496.6,252.6 496.6,255.5 499.5,255.5 499.5,258.5 496.6,258.5 496.6,261.4 493.7,261.4 493.7,258.5 490.7,258.5 490.7,255.5 493.7,255.5" fill="none" stroke="#70c3b0" stroke-width="1.5" stroke-linejoin="miter"/>
<polygon points="535.3,323.2 538.2,323.2 538.2,326.1 541.2,326.1 541.2,329.1 538.2,329.1 538.2,332 535.3,332 535.3,329.1 532.4,329.1 532.4,326.1 535.3,326.1" fill="none" stroke="#70c3b0" stroke-width="1.5" stroke-linejoin="miter"/>
<polygon points="576.9,323.2 579.9,323.2 579.9,326.1 582.8,326.1 582.8,329.1 579.9,329.1 579.9,332 576.9,332 576.9,329.1 574,329.1 574,326.1 576.9,326.1" fill="none" stroke="#70c3b0" stroke-width="1.5" stroke-linejoin="miter"/>
<polygon points="618.6,336.6 621.5,336.6 621.5,339.5 624.4,339.5 624.4,342.5 621.5,342.5 621.5,345.4 618.6,345.4 618.6,342.5 615.6,342.5 615.6,339.5 618.6,339.5" fill="none" stroke="#70c3b0" stroke-width="1.5" stroke-linejoin="miter"/>
<polygon points="660.2,352.6 663.1,352.6 663.1,355.5 666.1,355.5 666.1,358.5 663.1,358.5 663.1,361.4 660.2,361.4 660.2,358.5 657.3,358.5 657.3,355.5 660.2,355.5" fill="none" stroke="#70c3b0" stroke-width="1.5" stroke-linejoin="miter"/>
</g>
<g><polyline points="78.8,106 84.8,107 90.7,130 96.7,101 102.6,101 108.6,156 114.5,110 120.5,151 126.4,100 132.4,128 138.3,101 144.3,101 150.2,101 156.2,164 162.1,129 168.1,154 174,162 179.9,256 185.9,190 191.8,134 197.8,129 203.7,151.6 209.7,200 215.6,129 221.6,200 227.5,182 233.5,129 239.4,129 245.4,129 251.3,197 257.3,197.6 263.2,197.6 269.2,197.6 275.1,197.6 281,197.6 287,197.6 292.9,208 298.9,198 304.8,246 310.8,198 316.7,198 322.7,279 328.6,196.5 334.6,216 340.5,198 346.5,216 352.4,198 358.4,198 364.3,198 370.2,210 376.2,198 382.1,198 388.1,198 394,198 400,198 405.9,198 411.9,198 417.8,198 423.8,268 429.7,198 435.7,240 441.6,206 447.6,198 453.5,198 459.5,198 465.4,198 471.3,235 477.3,216 483.2,198 489.2,198 495.1,283 501.1,198 507,198 513,245 518.9,198 524.9,198 530.8,198 536.8,198 542.7,198 548.7,198 554.6,200 560.6,213 566.5,199 572.4,198 578.4,197 584.3,198 590.3,199 596.2,242 602.2,199 608.1,200 614.1,266 620,229 626,246 631.9,312.4 637.9,312.4 643.8,312.4 649.8,312.4 655.7,312.4 661.7,312.4 667.6,312.4" fill="none" stroke="#5a9bcc" stroke-width="3.1" stroke-linejoin="round" stroke-linecap="butt"/>
<polygon points="78.8,101.6 83,104.6 81.4,109.6 76.3,109.6 74.7,104.6" fill="none" stroke="#5a9bcc" stroke-width="1.5" stroke-linejoin="miter"/>
<polygon points="120.5,146.6 124.7,149.6 123.1,154.6 117.9,154.6 116.3,149.6" fill="none" stroke="#5a9bcc" stroke-width="1.5" stroke-linejoin="miter"/>
<polygon points="162.1,124.6 166.3,127.6 164.7,132.6 159.5,132.6 157.9,127.6" fill="none" stroke="#5a9bcc" stroke-width="1.5" stroke-linejoin="miter"/>
<polygon points="203.7,147.2 207.9,150.2 206.3,155.2 201.1,155.2 199.5,150.2" fill="none" stroke="#5a9bcc" stroke-width="1.5" stroke-linejoin="miter"/>
<polygon points="245.4,124.6 249.5,127.6 247.9,132.6 242.8,132.6 241.2,127.6" fill="none" stroke="#5a9bcc" stroke-width="1.5" stroke-linejoin="miter"/>
<polygon points="287,193.2 291.2,196.2 289.6,201.2 284.4,201.2 282.8,196.2" fill="none" stroke="#5a9bcc" stroke-width="1.5" stroke-linejoin="miter"/>
<polygon points="328.6,192.1 332.8,195.1 331.2,200.1 326,200.1 324.4,195.1" fill="none" stroke="#5a9bcc" stroke-width="1.5" stroke-linejoin="miter"/>
<polygon points="370.2,205.6 374.4,208.6 372.8,213.6 367.7,213.6 366.1,208.6" fill="none" stroke="#5a9bcc" stroke-width="1.5" stroke-linejoin="miter"/>
<polygon points="411.9,193.6 416.1,196.6 414.5,201.6 409.3,201.6 407.7,196.6" fill="none" stroke="#5a9bcc" stroke-width="1.5" stroke-linejoin="miter"/>
<polygon points="453.5,193.6 457.7,196.6 456.1,201.6 450.9,201.6 449.3,196.6" fill="none" stroke="#5a9bcc" stroke-width="1.5" stroke-linejoin="miter"/>
<polygon points="495.1,278.6 499.3,281.6 497.7,286.6 492.6,286.6 491,281.6" fill="none" stroke="#5a9bcc" stroke-width="1.5" stroke-linejoin="miter"/>
<polygon points="536.8,193.6 541,196.6 539.4,201.6 534.2,201.6 532.6,196.6" fill="none" stroke="#5a9bcc" stroke-width="1.5" stroke-linejoin="miter"/>
<polygon points="578.4,192.6 582.6,195.6 581,200.6 575.8,200.6 574.2,195.6" fill="none" stroke="#5a9bcc" stroke-width="1.5" stroke-linejoin="miter"/>
<polygon points="620,224.6 624.2,227.6 622.6,232.6 617.4,232.6 615.8,227.6" fill="none" stroke="#5a9bcc" stroke-width="1.5" stroke-linejoin="miter"/>
<polygon points="661.7,308 665.8,311 664.2,316 659.1,316 657.5,311" fill="none" stroke="#5a9bcc" stroke-width="1.5" stroke-linejoin="miter"/>
</g>
</g>
<rect x="72.9" y="26.8" width="594.7" height="430.2" fill="none" stroke="#141414" stroke-width="1.6"/>
<path d="M72.9 457v6M191.8 457v6M310.8 457v6M429.7 457v6M548.7 457v6M667.6 457v6M72.9 64.4h-6M72.9 293.6h-6" stroke="#141414" stroke-width="1.5" fill="none"/>
<text x="72.9" y="481.1" font-size="15.3" text-anchor="middle">0</text>
<text x="191.7" y="481.1" font-size="15.3" text-anchor="middle">20</text>
<text x="310.4" y="481.1" font-size="15.3" text-anchor="middle">40</text>
<text x="429.1" y="481.1" font-size="15.3" text-anchor="middle">60</text>
<text x="548.3" y="481.1" font-size="15.3" text-anchor="middle">80</text>
<text x="667.4" y="481.1" font-size="15.3" text-anchor="middle">100</text>
<text x="62" y="71" font-size="15.3" text-anchor="end">10<tspan font-size="11.2" dy="-6.4">−1</tspan></text>
<text x="62.2" y="300" font-size="15.3" text-anchor="end">10<tspan font-size="11.2" dy="-6.4">−2</tspan></text>
<text x="369.9" y="501.6" font-size="15.5" text-anchor="middle">Iterations</text>
<text transform="translate(15.1 244) rotate(-90)" font-size="15.6" text-anchor="middle">Fitness</text>
<text x="370.2" y="16.9" font-size="18.8" text-anchor="middle">MSE</text>
<rect x="487.6" y="34.6" width="171.8" height="234.4" rx="3" ry="3" fill="#fff" fill-opacity="0.8" stroke="#ccc" stroke-opacity="0.8" stroke-width="1.3"/>
<path d="M492.3 47.8H526.5" stroke="#1053f0" stroke-width="3.1" fill="none"/>
<circle cx="509.5" cy="47.8" r="4.4" fill="none" stroke="#1053f0" stroke-width="1.5" stroke-linejoin="miter"/>
<text x="537.5" y="53.5" font-size="15.58">LWSSA-MLP</text>
<path d="M492.3 70.8H526.5" stroke="#52cdaa" stroke-width="3.1" fill="none"/>
<rect x="505.1" y="66.4" width="8.8" height="8.8" fill="none" stroke="#52cdaa" stroke-width="1.5" stroke-linejoin="miter"/>
<text x="537.5" y="76.5" font-size="15.58">MFO-MLP</text>
<path d="M492.3 93.7H526.5" stroke="#161b1f" stroke-width="3.1" fill="none"/>
<polygon points="509.5,89.5 513.7,98 505.3,98" fill="none" stroke="#161b1f" stroke-width="1.5" stroke-linejoin="miter"/>
<text x="537.5" y="99.4" font-size="15.58">EDO-MLP</text>
<path d="M492.3 116.7H526.5" stroke="#509b40" stroke-width="3.1" fill="none"/>
<polygon points="509.5,120.9 513.7,112.5 505.3,112.5" fill="none" stroke="#509b40" stroke-width="1.5" stroke-linejoin="miter"/>
<text x="537.5" y="122.4" font-size="15.58">SSA-MLP</text>
<path d="M492.3 139.7H526.5" stroke="#ff10e0" stroke-width="3.1" fill="none"/>
<polygon points="509.5,135.7 510.4,138.5 513.3,138.5 510.9,140.1 511.8,142.9 509.5,141.2 507.2,142.9 508.1,140.1 505.7,138.5 508.6,138.5" fill="#ff10e0" fill-opacity="0.55" stroke="#ff10e0" stroke-width="1.5" stroke-linejoin="round"/>
<text x="537.5" y="145.4" font-size="15.58">TSO-MLP</text>
<path d="M492.3 162.6H526.5" stroke="#ff8510" stroke-width="3.1" fill="none"/>
<path d="M505.1 158.2L513.9 167M505.1 167L513.9 158.2" fill="none" stroke="#ff8510" stroke-width="1.5" stroke-linejoin="miter" stroke-linecap="butt"/>
<text x="537.5" y="168.3" font-size="15.58">YDSE-MLP</text>
<path d="M492.3 185.6H526.5" stroke="#697174" stroke-width="3.1" fill="none"/>
<polygon points="509.5,179.4 515.7,185.6 509.5,191.8 503.3,185.6" fill="none" stroke="#697174" stroke-width="1.5" stroke-linejoin="miter"/>
<text x="537.5" y="191.3" font-size="15.58">RWGWO-MLP</text>
<path d="M492.3 208.6H526.5" stroke="#84d3a0" stroke-width="3.1" fill="none"/>
<polygon points="509.5,202.4 513.2,208.6 509.5,214.8 505.8,208.6" fill="none" stroke="#84d3a0" stroke-width="1.5" stroke-linejoin="miter"/>
<text x="537.5" y="214.3" font-size="15.58">AVOA-MLP</text>
<path d="M492.3 231.6H526.5" stroke="#70c3b0" stroke-width="3.1" fill="none"/>
<polygon points="508,227.2 511,227.2 511,230.1 513.9,230.1 513.9,233 511,233 511,236 508,236 508,233 505.1,233 505.1,230.1 508,230.1" fill="none" stroke="#70c3b0" stroke-width="1.5" stroke-linejoin="miter"/>
<text x="537.5" y="237.3" font-size="15.58">GRO-MLP</text>
<path d="M492.3 254.5H526.5" stroke="#5a9bcc" stroke-width="3.1" fill="none"/>
<polygon points="509.5,250.1 513.7,253.2 512.1,258.1 506.9,258.1 505.3,253.2" fill="none" stroke="#5a9bcc" stroke-width="1.5" stroke-linejoin="miter"/>
<text x="537.5" y="260.2" font-size="15.58">HBA-MLP</text>
</svg></body></html>
